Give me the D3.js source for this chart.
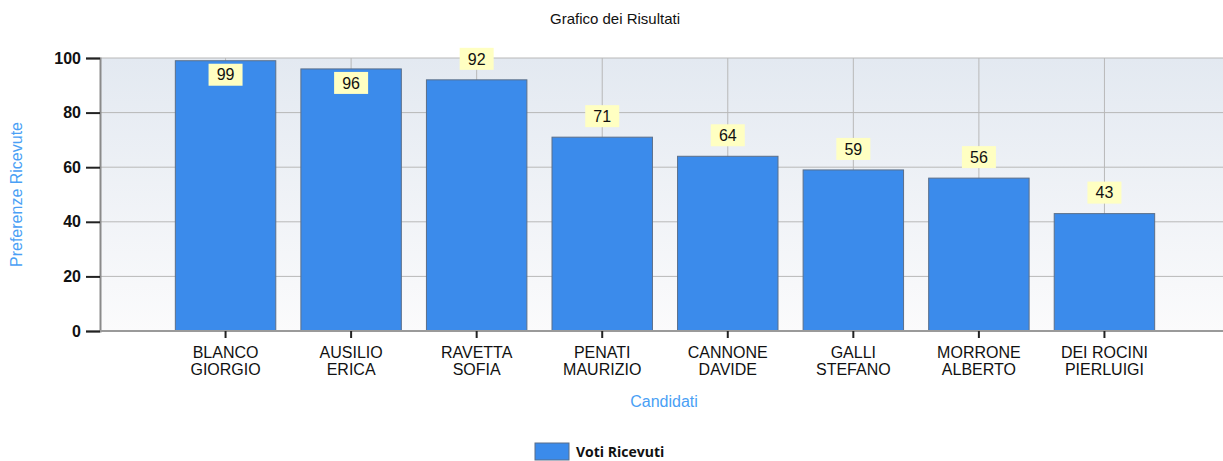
<!DOCTYPE html>
<meta charset="utf-8">
<head>
  <title>Grafico dei Risultati</title>
  <style>
    body { margin: 0; background: #fff; }
    svg text { font-family: "Liberation Sans", Arial, sans-serif; }
  </style>
</head>
<body>
<script src="https://d3js.org/d3.v7.min.js"></script>
<div id="chart"></div>
<script>

// data
var candidati = [
  ["BLANCO", "GIORGIO"],
  ["AUSILIO", "ERICA"],
  ["RAVETTA", "SOFIA"],
  ["PENATI", "MAURIZIO"],
  ["CANNONE", "DAVIDE"],
  ["GALLI", "STEFANO"],
  ["MORRONE", "ALBERTO"],
  ["DEI ROCINI", "PIERLUIGI"]
];
var voti = [99, 96, 92, 71, 64, 59, 56, 43];
var yTicks = [0, 20, 40, 60, 80, 100];

var width = 1223, height = 461;
// (window.top is reserved, so plotTop etc.)
var plotLeft = 100, plotTop = 58, plotBottom = 331, plotRight = 1230;

var svg = d3.select("#chart").append("svg")
    .attr("width", width)
    .attr("height", height);

var defs = svg.append("defs");
var grad = defs.append("linearGradient")
    .attr("id", "bg")
    .attr("x1", 0).attr("y1", 0).attr("x2", 0).attr("y2", 1);
grad.append("stop").attr("offset", "0%").attr("stop-color", "#e3e9f1");
grad.append("stop").attr("offset", "100%").attr("stop-color", "#fbfbfc");

// x: category slots 1..8 on a 0..9 axis (like the original chart control)
var x = d3.scaleLinear().domain([0, candidati.length + 1]).range([plotLeft, plotRight]);
var y = d3.scaleLinear().domain([0, 100]).range([plotBottom, plotTop]);
var slot = x(1) - x(0);
var barW = slot * 0.8;

svg.append("rect")
    .attr("x", plotLeft).attr("y", plotTop)
    .attr("width", plotRight - plotLeft).attr("height", plotBottom - plotTop)
    .attr("fill", "url(#bg)");

// grid
svg.append("g").selectAll("line")
    .data(yTicks)
    .enter().append("line")
      .attr("x1", plotLeft).attr("x2", plotRight)
      .attr("y1", function(d) { return y(d); })
      .attr("y2", function(d) { return y(d); })
      .attr("stroke", "#b8b8b8").attr("stroke-width", 1);

svg.append("g").selectAll("line")
    .data(voti)
    .enter().append("line")
      .attr("x1", function(d, i) { return x(i + 1); })
      .attr("x2", function(d, i) { return x(i + 1); })
      .attr("y1", plotTop).attr("y2", plotBottom)
      .attr("stroke", "#b8b8b8").attr("stroke-width", 1);

// bars
svg.append("g").selectAll("rect")
    .data(voti)
    .enter().append("rect")
      .attr("x", function(d, i) { return x(i + 1) - barW / 2; })
      .attr("y", function(d) { return y(d); })
      .attr("width", barW)
      .attr("height", function(d) { return plotBottom - y(d); })
      .attr("fill", "#3b8beb")
      .attr("stroke", "#5b6f89")
      .attr("stroke-width", 1);

// axes
var yAxis = svg.append("g")
    .attr("transform", "translate(" + plotLeft + ",0)")
    .call(d3.axisLeft(y).tickValues(yTicks).tickSize(14).tickPadding(5));
yAxis.select(".domain").attr("stroke", "#8a8a8a").attr("stroke-width", 2);
yAxis.selectAll(".tick line").attr("stroke", "#222").attr("stroke-width", 2);
yAxis.selectAll(".tick text")
    .style("font-size", "16px").style("font-weight", "bold").attr("fill", "#111");

var xAxis = svg.append("g")
    .attr("transform", "translate(0," + plotBottom + ")");
xAxis.append("line")
    .attr("x1", plotLeft).attr("x2", plotRight)
    .attr("stroke", "#9a9a9a").attr("stroke-width", 2);
var xt = xAxis.selectAll(".xt")
    .data(candidati)
    .enter().append("g")
      .attr("class", "xt")
      .attr("transform", function(d, i) { return "translate(" + x(i + 1) + ",0)"; });
xt.append("line").attr("y1", 0).attr("y2", 7).attr("stroke", "#222").attr("stroke-width", 2);
xt.append("text")
    .attr("text-anchor", "middle")
    .style("font-size", "16px")
    .attr("fill", "#111")
    .selectAll("tspan")
    .data(function(d) { return d; })
    .enter().append("tspan")
      .attr("x", 0)
      .attr("y", function(d, i) { return 27 + i * 17; })
      .text(function(d) { return d; });

// value labels
var lab = svg.append("g").selectAll("g")
    .data(voti)
    .enter().append("g")
      .attr("transform", function(d, i) {
        var cy = y(d) - 21;
        if (cy < 55) cy = y(d) + 14;
        return "translate(" + x(i + 1) + "," + cy + ")";
      });
lab.append("rect")
    .attr("x", -17).attr("y", -11)
    .attr("width", 34).attr("height", 22)
    .attr("fill", "#ffffc2");
lab.append("text")
    .attr("text-anchor", "middle")
    .attr("dy", "0.36em")
    .style("font-size", "16px")
    .attr("fill", "#111")
    .text(function(d) { return d; });

// titles
svg.append("text")
    .attr("x", 615).attr("y", 24)
    .attr("text-anchor", "middle")
    .style("font-size", "15px")
    .attr("fill", "#111")
    .text("Grafico dei Risultati");

svg.append("text")
    .attr("x", 664).attr("y", 407)
    .attr("text-anchor", "middle")
    .style("font-size", "16px")
    .attr("fill", "#4a9ff5")
    .text("Candidati");

svg.append("text")
    .attr("transform", "translate(22," + ((plotTop + plotBottom) / 2) + ")rotate(-90)")
    .attr("text-anchor", "middle")
    .style("font-size", "16px")
    .attr("fill", "#4a9ff5")
    .text("Preferenze Ricevute");

// legend
var legend = svg.append("g").attr("transform", "translate(535,443)");
legend.append("rect")
    .attr("width", 34).attr("height", 17)
    .attr("fill", "#3b8beb").attr("stroke", "#5b6f89");
legend.append("text")
    .attr("x", 41).attr("y", 14)
    .style("font-family", "'Open Sans', sans-serif")
    .style("font-size", "14px").style("font-weight", "bold")
    .attr("fill", "#111")
    .text("Voti Ricevuti");

</script>
</body>
